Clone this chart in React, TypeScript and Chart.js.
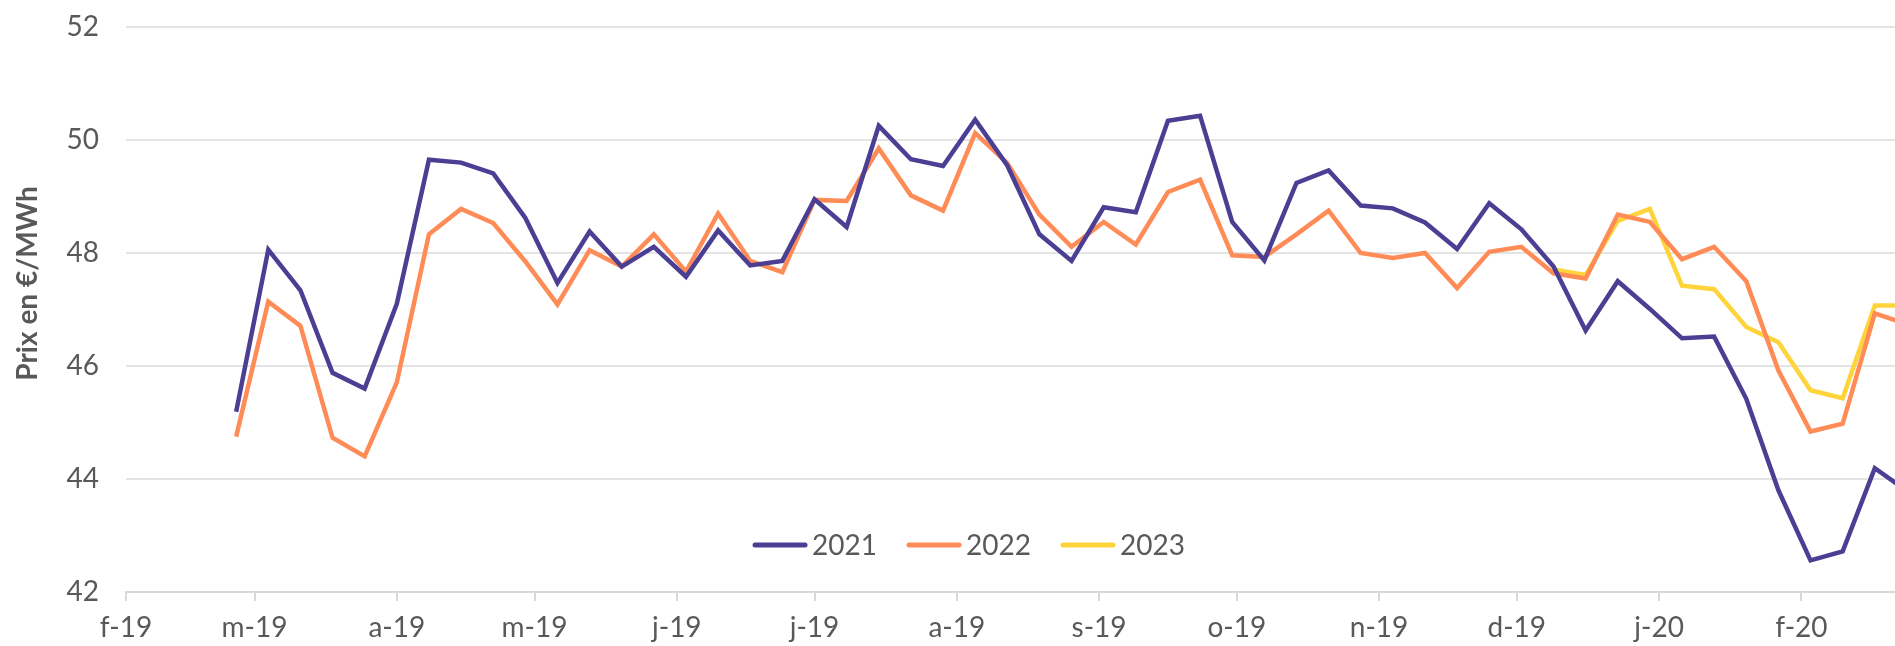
import React, { useEffect, useRef } from "react";
import { Chart, registerables } from "chart.js";

Chart.register(...registerables);

// Weekly observation dates (x categories)
const WEEK_DATES = [
  "2019-02-25", "2019-03-04", "2019-03-11", "2019-03-18", "2019-03-25",
  "2019-04-01", "2019-04-08", "2019-04-15", "2019-04-22", "2019-04-29",
  "2019-05-06", "2019-05-13", "2019-05-20", "2019-05-27", "2019-06-03",
  "2019-06-10", "2019-06-17", "2019-06-24", "2019-07-01", "2019-07-08",
  "2019-07-15", "2019-07-22", "2019-07-29", "2019-08-05", "2019-08-12",
  "2019-08-19", "2019-08-26", "2019-09-02", "2019-09-09", "2019-09-16",
  "2019-09-23", "2019-09-30", "2019-10-07", "2019-10-14", "2019-10-21",
  "2019-10-28", "2019-11-04", "2019-11-11", "2019-11-18", "2019-11-25",
  "2019-12-02", "2019-12-09", "2019-12-16", "2019-12-23", "2019-12-30",
  "2020-01-06", "2020-01-13", "2020-01-20", "2020-01-27", "2020-02-03",
  "2020-02-10", "2020-02-17", "2020-02-24",
];

const SERIES_2021 = [
  45.19, 48.06, 47.34, 45.88, 45.6, 47.1, 49.65, 49.6, 49.41, 48.62,
  47.47, 48.38, 47.76, 48.11, 47.58, 48.4, 47.78, 47.86, 48.95, 48.46,
  50.25, 49.66, 49.54, 50.36, 49.55, 48.33, 47.86, 48.81, 48.72, 50.34,
  50.43, 48.55, 47.87, 49.24, 49.46, 48.84, 48.79, 48.54, 48.07, 48.88,
  48.42, 47.76, 46.63, 47.5, 47.01, 46.49, 46.52, 45.42, 43.8, 42.56,
  42.72, 44.19, 43.79,
];

const SERIES_2022 = [
  44.75, 47.14, 46.71, 44.73, 44.4, 45.71, 48.33, 48.78, 48.53, 47.85,
  47.09, 48.05, 47.76, 48.33, 47.67, 48.7, 47.86, 47.66, 48.94, 48.92,
  49.85, 49.02, 48.75, 50.12, 49.59, 48.68, 48.11, 48.55, 48.15, 49.08,
  49.3, 47.96, 47.93, 48.33, 48.75, 48.0, 47.91, 48.0, 47.38, 48.02,
  48.11, 47.64, 47.55, 48.68, 48.55, 47.89, 48.11, 47.5, 45.92, 44.84,
  44.98, 46.93, 46.74,
];

const SERIES_2023 = [
  null, null, null, null, null, null, null, null, null, null,
  null, null, null, null, null, null, null, null, null, null,
  null, null, null, null, null, null, null, null, null, null,
  null, null, null, null, null, null, null, null, null, null,
  null, 47.71, 47.61, 48.57, 48.78, 47.42, 47.36, 46.69, 46.42, 45.57,
  45.43, 47.07, 47.07,
];

const SERIES_NAMES = ["2021", "2022", "2023"];
const SERIES_COLORS = ["#4b3f93", "#ff8b57", "#ffd43b"];

const MONTH_STARTS = [
  "2019-02-01", "2019-03-01", "2019-04-01", "2019-05-01", "2019-06-01",
  "2019-07-01", "2019-08-01", "2019-09-01", "2019-10-01", "2019-11-01",
  "2019-12-01", "2020-01-01", "2020-02-01",
];
const MONTH_LABELS = [
  "f-19", "m-19", "a-19", "m-19", "j-19", "j-19", "a-19", "s-19", "o-19",
  "n-19", "d-19", "j-20", "f-20",
];
const X_END_DATE = "2020-02-21";

const Y_MIN = 42;
const Y_MAX = 52;
const Y_STEP = 2;
const Y_TITLE = "Prix en €/MWh";

const TEXT_COLOR = "#595959";
const FONT_FAMILY = "Lato, 'Open Sans', sans-serif";
const FONT_SIZE = 28;

const ORIGIN = Date.UTC(2019, 1, 1);
function dayIndex(iso: string): number {
  const [y, m, d] = iso.split("-").map(Number);
  return (Date.UTC(y, m - 1, d) - ORIGIN) / 86400000;
}

const overlayPlugin = {
  id: "overlay",
  afterDraw(chart: any) {
    const ctx = chart.ctx as CanvasRenderingContext2D;
    const { left, top, bottom } = chart.chartArea;
    // Y axis title
    ctx.save();
    ctx.font = `bold ${FONT_SIZE}px ${FONT_FAMILY}`;
    ctx.fillStyle = TEXT_COLOR;
    ctx.translate(28, (top + bottom) / 2 - 26);
    ctx.rotate(-Math.PI / 2);
    ctx.textAlign = "center";
    ctx.textBaseline = "middle";
    ctx.fillText(Y_TITLE, 0, 0);
    ctx.restore();

    // Legend inside the plot
    ctx.save();
    ctx.font = `${FONT_SIZE}px ${FONT_FAMILY}`;
    const lineLen = 54;
    const gap = 5;
    const itemGap = 30;
    const items = chart.data.datasets.map((ds: any) => ({
      label: ds.label,
      color: ds.borderColor,
      w: ctx.measureText(ds.label).width,
    }));
    const total =
      items.reduce((s: number, it: any) => s + lineLen + gap + it.w, 0) +
      itemGap * (items.length - 1);
    let x = left + 843 - total / 2;
    const y = bottom - 47;
    ctx.textBaseline = "middle";
    ctx.textAlign = "left";
    for (const it of items) {
      ctx.strokeStyle = it.color;
      ctx.lineWidth = 5;
      ctx.lineCap = "round";
      ctx.beginPath();
      ctx.moveTo(x + 2, y);
      ctx.lineTo(x + lineLen - 2, y);
      ctx.stroke();
      ctx.fillStyle = TEXT_COLOR;
      ctx.fillText(it.label, x + lineLen + gap, y + 1);
      x += lineLen + gap + it.w + itemGap;
    }
    ctx.restore();
  },
};

export default function App() {
  const canvasRef = useRef<HTMLCanvasElement | null>(null);

  useEffect(() => {
    if (!canvasRef.current) return;
    const seriesValues = [SERIES_2021, SERIES_2022, SERIES_2023];
    const datasets = seriesValues.map((vals, i) => ({
      label: SERIES_NAMES[i],
      data: WEEK_DATES.map((d, j) => ({ x: dayIndex(d), y: vals[j] })),
      borderColor: SERIES_COLORS[i],
      backgroundColor: SERIES_COLORS[i],
      borderWidth: 4.5,
      pointRadius: 0,
      pointHoverRadius: 0,
      tension: 0,
      spanGaps: false,
      borderJoinStyle: "miter" as const,
    }));

    const monthValues = MONTH_STARTS.map(dayIndex);

    const chart = new Chart(canvasRef.current, {
      type: "line",
      data: { datasets },
      options: {
        animation: false,
        responsive: true,
        maintainAspectRatio: false,
        parsing: false as any,
        layout: { padding: { top: 27, right: 0, left: 0, bottom: 0 } },
        plugins: {
          legend: { display: false },
          tooltip: { enabled: false },
        },
        scales: {
          x: {
            type: "linear",
            min: 0,
            max: dayIndex(X_END_DATE) + 0.4,
            afterBuildTicks: (scale: any) => {
              scale.ticks = monthValues.map((v) => ({ value: v }));
            },
            afterFit: (scale: any) => {
              scale.height = 54;
              scale.paddingLeft = 0;
              scale.paddingRight = 0;
            },
            ticks: {
              autoSkip: false,
              maxRotation: 0,
              padding: 10,
              color: TEXT_COLOR,
              font: { family: FONT_FAMILY, size: FONT_SIZE },
              callback: (_v: any, idx: number) => MONTH_LABELS[idx],
            },
            grid: {
              drawOnChartArea: false,
              drawTicks: true,
              tickLength: 9,
              color: "#d9d9d9",
              lineWidth: 2,
            },
            border: { display: true, color: "#d9d9d9", width: 2 },
          },
          y: {
            type: "linear",
            min: Y_MIN,
            max: Y_MAX,
            afterFit: (scale: any) => {
              scale.width = 126;
              scale.paddingTop = 0;
              scale.paddingBottom = 0;
            },
            ticks: {
              stepSize: Y_STEP,
              padding: 27,
              color: TEXT_COLOR,
              font: { family: FONT_FAMILY, size: FONT_SIZE },
            },
            grid: {
              color: "#e4e4e4",
              lineWidth: 2,
              drawTicks: false,
            },
            border: { display: false },
          },
        },
      },
      plugins: [overlayPlugin],
    });
    return () => chart.destroy();
  }, []);

  return (
    <div
      style={{
        position: "absolute",
        left: 0,
        top: 0,
        width: 1895,
        height: 646,
        background: "#ffffff",
      }}
    >
      <canvas ref={canvasRef} />
    </div>
  );
}
